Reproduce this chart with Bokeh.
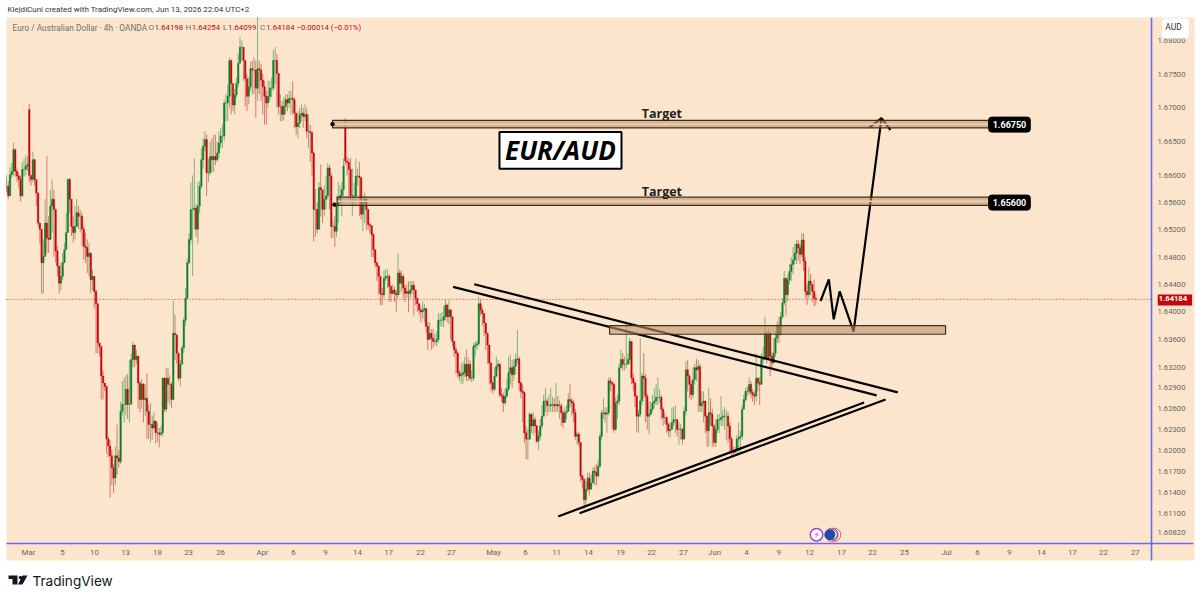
from bokeh.plotting import figure
from bokeh.embed import file_html
from bokeh.resources import INLINE
from bokeh.models import (ColumnDataSource, Range1d, FixedTicker, NumeralTickFormatter, Label,
                          BoxAnnotation, PolyAnnotation)

# ---- price data, price x 10000, one row = 10 four-hour candles ----
closes = [
16584,16570,16601,16606,16638,16606,16599,16594,16570,16609,
16609,16614,16616,16600,16594,16623,16594,16574,16530,16521,
16472,16481,16530,16508,16506,16555,16565,16550,16489,16467,
16442,16452,16472,16491,16516,16594,16565,16525,16516,16525,
16545,16540,16540,16521,16496,16494,16481,16486,16447,16452,
16430,16412,16355,16350,16307,16297,16292,16216,16206,16192,
16175,16160,16192,16189,16184,16256,16266,16266,16288,16266,
16266,16331,16352,16331,16336,16297,16273,16295,16273,16275,
16256,16237,16237,16232,16242,16225,16225,16223,16225,16304,
16259,16304,16295,16295,16273,16369,16367,16340,16304,16324,
16348,16388,16420,16472,16506,16550,16550,16552,16521,16555,
16584,16623,16643,16653,16604,16604,16628,16623,16628,16623,
16633,16648,16658,16658,16707,16707,16717,16770,16736,16704,
16719,16736,16766,16790,16790,16770,16743,16717,16731,16758,
16756,16756,16729,16758,16756,16741,16731,16717,16707,16717,
16729,16729,16770,16770,16751,16702,16702,16690,16702,16712,
16707,16714,16714,16712,16692,16672,16677,16690,16692,16687,
16690,16665,16665,16663,16633,16550,16550,16521,16582,16579,
16550,16565,16570,16611,16599,16525,16525,16518,16555,16560,
16570,16579,16614,16621,16619,16609,16570,16570,16570,16599,
16599,16597,16543,16560,16565,16550,16528,16526,16513,16491,
16472,16467,16452,16427,16425,16449,16452,16452,16437,16427,
16432,16427,16425,16457,16442,16452,16435,16427,16430,16427,
16432,16439,16432,16420,16412,16403,16400,16403,16405,16379,
16360,16369,16362,16357,16357,16360,16388,16388,16388,16393,
16410,16393,16403,16393,16357,16345,16340,16312,16307,16309,
16312,16324,16307,16324,16304,16304,16350,16352,16354,16412,
16403,16398,16384,16369,16352,16326,16297,16288,16307,16321,
16324,16280,16278,16268,16278,16288,16312,16319,16309,16321,
16331,16332,16297,16285,16283,16225,16216,16216,16252,16235,
16244,16235,16213,16220,16235,16249,16271,16271,16264,16264,
16266,16266,16264,16266,16264,16264,16254,16240,16254,16256,
16273,16271,16268,16254,16220,16223,16211,16163,16158,16129,
16144,16160,16144,16153,16170,16168,16163,16177,16220,16254,
16254,16252,16254,16300,16297,16295,16230,16268,16271,16319,
16331,16324,16324,16324,16331,16357,16304,16297,16278,16249,
16252,16271,16307,16304,16278,16249,16252,16259,16268,16271,
16276,16276,16276,16259,16247,16247,16237,16228,16230,16240,
16244,16244,16230,16230,16230,16216,16256,16316,16307,16295,
16280,16302,16319,16316,16321,16264,16268,16271,16249,16228,
16254,16252,16235,16211,16230,16244,16244,16247,16249,16249,
16249,16235,16216,16199,16197,16199,16216,16218,16220,16259,
16273,16285,16285,16295,16283,16280,16278,16304,16297,16295,
16331,16333,16369,16333,16369,16336,16326,16340,16362,16381,
16367,16393,16413,16449,16425,16447,16459,16469,16476,16486,
16499,16494,16484,16505,16474,16430,16425,16445,16440,16430,16420,16418.4]

highs = [
16600,16592,16612,16618,16648,16640,16610,16604,16600,16620,
16625,16630,16628,16706,16600,16635,16625,16590,16575,16530,
16496,16506,16565,16628,16540,16579,16594,16579,16511,16496,
16467,16472,16486,16501,16545,16596,16596,16565,16540,16555,
16565,16555,16550,16545,16525,16516,16506,16501,16481,16462,
16445,16432,16412,16355,16330,16315,16297,16292,16220,16215,
16200,16180,16205,16237,16200,16270,16300,16305,16308,16310,
16330,16340,16358,16345,16345,16335,16300,16303,16297,16295,
16311,16265,16268,16250,16255,16240,16240,16232,16235,16305,
16305,16319,16319,16308,16298,16417,16396,16360,16320,16330,
16352,16392,16435,16478,16515,16590,16600,16625,16558,16590,
16592,16640,16655,16665,16660,16625,16650,16655,16660,16660,
16650,16665,16670,16675,16712,16720,16735,16775,16772,16720,
16728,16745,16780,16805,16800,16785,16770,16750,16745,16768,
16770,16775,16770,16835,16770,16765,16750,16740,16725,16740,
16740,16745,16785,16790,16780,16750,16720,16710,16716,16720,
16720,16725,16725,16739,16715,16690,16695,16700,16705,16700,
16705,16700,16690,16675,16665,16635,16580,16560,16590,16616,
16575,16585,16600,16618,16615,16603,16535,16540,16570,16590,
16585,16590,16625,16685,16628,16625,16625,16610,16590,16625,
16610,16620,16595,16570,16575,16568,16550,16530,16525,16515,
16490,16473,16468,16445,16435,16460,16462,16462,16455,16440,
16440,16437,16432,16486,16462,16460,16455,16440,16440,16445,
16445,16445,16445,16432,16420,16412,16408,16415,16412,16405,
16385,16385,16375,16375,16368,16372,16398,16398,16400,16408,
16418,16412,16417,16405,16380,16358,16350,16342,16316,16325,
16328,16335,16345,16334,16330,16315,16355,16358,16358,16422,
16418,16408,16398,16384,16370,16352,16326,16300,16320,16335,
16330,16326,16290,16283,16290,16303,16335,16338,16330,16332,
16340,16374,16335,16300,16295,16285,16235,16230,16255,16252,
16255,16248,16236,16228,16245,16265,16280,16290,16275,16280,
16290,16277,16275,16297,16278,16272,16268,16258,16262,16265,
16282,16295,16275,16272,16260,16227,16226,16212,16165,16160,
16155,16168,16168,16165,16175,16177,16180,16185,16225,16258,
16275,16262,16262,16305,16305,16300,16298,16275,16280,16325,
16345,16340,16335,16382,16340,16362,16358,16310,16300,16280,
16258,16362,16312,16340,16310,16282,16270,16270,16280,16290,
16295,16305,16288,16280,16262,16255,16250,16240,16240,16262,
16262,16265,16245,16240,16238,16232,16262,16328,16330,16310,
16300,16320,16325,16332,16330,16325,16285,16285,16270,16250,
16290,16275,16260,16238,16245,16252,16252,16278,16258,16262,
16258,16255,16240,16220,16205,16205,16222,16240,16228,16265,
16280,16290,16292,16305,16300,16288,16285,16340,16305,16305,
16340,16350,16393,16372,16376,16372,16342,16362,16372,16386,
16393,16400,16420,16460,16450,16455,16470,16480,16495,16500,
16505,16505,16500,16515,16515,16480,16440,16465,16455,16440,16447,16425.4]

lows = [
16575,16565,16570,16596,16600,16598,16590,16582,16562,16568,
16598,16600,16606,16590,16585,16590,16585,16555,16525,16500,
16427,16427,16486,16486,16486,16535,16516,16481,16472,16452,
16427,16432,16447,16472,16496,16540,16545,16511,16501,16506,
16525,16521,16516,16496,16476,16472,16457,16452,16427,16432,
16405,16340,16340,16335,16273,16273,16285,16195,16190,16132,
16150,16139,16150,16165,16175,16180,16250,16240,16250,16245,
16240,16270,16320,16320,16325,16260,16255,16260,16240,16250,
16216,16216,16211,16215,16230,16210,16212,16204,16220,16220,
16255,16255,16270,16265,16261,16275,16330,16325,16300,16292,
16340,16340,16380,16420,16470,16500,16452,16520,16510,16500,
16545,16580,16610,16635,16570,16590,16600,16605,16605,16615,
16620,16625,16640,16640,16650,16680,16680,16700,16690,16695,
16690,16715,16730,16770,16770,16740,16702,16695,16705,16725,
16720,16720,16685,16710,16720,16710,16690,16675,16675,16700,
16710,16715,16725,16735,16700,16690,16680,16680,16682,16690,
16695,16700,16690,16690,16670,16660,16655,16670,16680,16670,
16680,16655,16640,16620,16600,16503,16510,16515,16520,16540,
16530,16540,16550,16565,16550,16508,16508,16495,16510,16530,
16555,16540,16570,16615,16600,16565,16560,16540,16555,16560,
16585,16540,16535,16518,16530,16520,16520,16515,16480,16480,
16465,16445,16425,16410,16410,16420,16445,16435,16415,16415,
16425,16415,16400,16420,16425,16430,16420,16415,16420,16400,
16420,16425,16395,16410,16400,16395,16385,16390,16385,16370,
16345,16360,16345,16348,16352,16350,16355,16380,16378,16378,
16388,16385,16382,16360,16350,16335,16310,16305,16300,16296,
16296,16305,16300,16300,16300,16298,16300,16335,16345,16350,
16395,16380,16365,16345,16325,16295,16285,16282,16285,16305,
16315,16276,16270,16255,16265,16275,16285,16295,16290,16300,
16310,16325,16285,16275,16240,16210,16187,16187,16215,16225,
16222,16225,16210,16200,16215,16230,16250,16255,16250,16255,
16255,16255,16255,16255,16255,16245,16235,16232,16240,16245,
16260,16262,16250,16240,16215,16208,16205,16155,16145,16115,
16120,16140,16135,16148,16155,16150,16150,16160,16175,16215,
16245,16240,16225,16250,16285,16230,16225,16228,16245,16265,
16322,16315,16315,16318,16325,16325,16295,16285,16262,16226,
16225,16248,16265,16275,16240,16230,16223,16250,16255,16260,
16265,16265,16268,16245,16235,16238,16225,16220,16218,16232,
16235,16225,16220,16208,16215,16208,16215,16250,16285,16275,
16272,16275,16295,16300,16255,16255,16255,16240,16225,16205,
16205,16235,16205,16205,16205,16225,16225,16235,16235,16230,
16215,16210,16195,16190,16192,16195,16193,16197,16195,16215,
16262,16270,16278,16280,16275,16270,16265,16270,16285,16265,
16305,16325,16330,16325,16330,16307,16318,16325,16335,16355,
16355,16385,16390,16410,16395,16415,16440,16445,16455,16470,
16470,16475,16470,16480,16460,16420,16410,16420,16425,16415,16408,16409.9]

open_gaps = {13: 16697, 193: 16670, 461: 16419.8}   # candles that open away from the previous close

date_labels = ["Mar","5","10","13","18","23","26","Apr","6","9","14","17","22","27","May","6","11","14",
               "19","22","27","Jun","4","9","12","17","22","25","Jul","6","9","14","17","22","27"]
date_pos = [12.5,31.9,50.1,67.8,86,103.7,121.9,145.8,163.5,181.7,199.9,217.6,235.8,253.4,277.4,295.6,313.3,331.5,
            349.8,367.4,385.6,403.3,421.5,439.8,457.4,475.6,493.3,511.5,535.4,553,571.2,589.5,607.1,624.8,643]
price_ticks = [1.68,1.675,1.67,1.665,1.66,1.656,1.652,1.648,1.644,1.64,1.636,1.632,1.629,1.626,1.623,1.62,1.617,1.614,1.611,1.6082]
last_price = 1.64184

# drawings, in bar index / price
zone_left = [185.7,188.5,343.5]; zone_right = [559.4,562.2,534.9]
zone_top = [1.66813,1.6568,1.63801]; zone_bottom = [1.66701,1.6556,1.63676]
trend_x0 = [254.4,266.4,314.2,326.4]; trend_y0 = [1.64366,1.64404,1.61051,1.61096]
trend_x1 = [495.6,507.7,488.5,500.7]; trend_y1 = [1.6279,1.62834,1.62688,1.62732]
path_x = [463.7,468.4,471.2,474.6,482.5,498.4]; path_y = [1.6416,1.64474,1.63894,1.64301,1.63713,1.66846]
head_x = [491.6,498.4,503.5]; head_y = [1.6671,1.66846,1.6667]

PEACH="#FCE5CD"; BLUE="#6A6AEC"; RED="#C4070A"; GREEN="#0A7F28"; GRAY="#6E6E6E"
scale = 1e-4
opens = [closes[0]] + closes[:-1]
for k, v in open_gaps.items():
    opens[k] = v
assert len(closes) == len(highs) == len(lows), (len(closes), len(highs), len(lows))
idx = list(range(len(closes)))
o = [v*scale for v in opens]; c = [v*scale for v in closes]; h = [v*scale for v in highs]; l = [v*scale for v in lows]
col = [GREEN if a >= b else RED for a, b in zip(c, o)]
src = ColumnDataSource(dict(x=idx, o=o, c=c, h=h, l=l, col=col))

p = figure(width=1200, height=600, output_backend="svg", toolbar_location=None,
           y_axis_type="log", y_axis_location="right",
           x_range=Range1d(-3.4176, 680.1), y_range=Range1d(1.59854, 1.68597),
           min_border=0, background_fill_color="white", border_fill_color="white", outline_line_color=None)
p.grid.visible = False

p.yaxis.fixed_location = 652.2          # the frame's right-hand price scale
p.yaxis.bounds = (1.60423, 1.68343)
p.yaxis.ticker = FixedTicker(ticks=price_ticks)
p.yaxis.formatter = NumeralTickFormatter(format="0.00000")
p.yaxis.major_tick_line_color = None; p.yaxis.minor_tick_line_color = None
p.yaxis.major_tick_out = 0; p.yaxis.major_tick_in = 0
p.yaxis.axis_line_color = BLUE; p.yaxis.axis_line_width = 1.6
p.yaxis.major_label_text_font = "Roboto"; p.yaxis.major_label_text_font_size = "7.7px"
p.yaxis.major_label_text_color = "#666666"; p.yaxis.major_label_standoff = 6

p.xaxis.fixed_location = 1.60663
p.xaxis.bounds = (0, 676.1)
p.xaxis.ticker = FixedTicker(ticks=date_pos)
p.xaxis.major_label_overrides = {k: v for k, v in zip(date_pos, date_labels)}
p.xaxis.major_tick_line_color = None; p.xaxis.minor_tick_line_color = None
p.xaxis.major_tick_out = 0; p.xaxis.major_tick_in = 0
p.xaxis.axis_line_color = BLUE; p.xaxis.axis_line_width = 1.6
p.xaxis.major_label_text_font = "Roboto"; p.xaxis.major_label_text_font_size = "7.8px"
p.xaxis.major_label_text_color = "#666666"; p.xaxis.major_label_standoff = 4

# chart panel
p.add_layout(BoxAnnotation(left=6, right=1194, top=17, bottom=560, left_units="canvas", right_units="canvas",
                           top_units="canvas", bottom_units="canvas", fill_color=PEACH, fill_alpha=1, line_color=None, level="underlay"))
p.line([0, 652.2], [last_price, last_price], line_color=RED, line_dash="1 2", line_width=1, line_alpha=0.8)

# candles
p.segment("x", "l", "x", "h", source=src, color="col", line_width=1, line_alpha=0.5)
p.vbar("x", 0.85, "o", "c", source=src, fill_color="col", line_color="col", line_width=0.4)

# drawings
for a, b, d, e in zip(trend_x0, trend_y0, trend_x1, trend_y1):
    p.line([a, d], [b, e], line_color="black", line_width=2.2)
p.line(path_x, path_y, line_color="black", line_width=2.2)
p.line(head_x, head_y, line_color="black", line_width=2.2)
p.quad(left=zone_left, right=zone_right, top=zone_top, bottom=zone_bottom,
       fill_color="#BF9368", fill_alpha=0.6, line_color="#3A3026", line_width=1.2)
for a, b, d, e in zip(zone_left[:2], zone_right[:2], zone_top[:2], zone_bottom[:2]):
    p.line([a, b], [(d+e)/2, (d+e)/2], line_color="#EBD0B4", line_width=1.5)
p.scatter(zone_left[:1], [(zone_top[0]+zone_bottom[0])/2], size=3.5, color="black")
p.scatter([186.8], [1.6557], size=3.5, color="black")

# name box
p.quad(left=[280.8], right=[350.3], top=[1.66642], bottom=[1.66098], fill_color="white", line_color="black", line_width=2)
p.add_layout(Label(x=315.5, y=1.6637, text="EUR/AUD", text_font="Open Sans", text_font_style="bold italic",
                   text_font_size="26px", text_color="black", text_align="center", text_baseline="middle"))
for yy in (1.6691, 1.65756):
    p.add_layout(Label(x=373.3, y=yy, text="Target", text_font="Open Sans", text_font_style="bold",
                       text_font_size="12.5px", text_color="#222222", text_align="center", text_baseline="middle"))
for yy, tt in ((1.6675, "1.66750"), (1.656, "1.65600")):
    p.add_layout(Label(x=571.3, y=yy, text=tt, text_font="Roboto", text_font_style="bold", text_font_size="9px",
                       text_color="white", text_align="center", text_baseline="middle",
                       background_fill_color="black", border_line_color="black", border_radius=3, padding=4))

# events
p.scatter([471.5], [1.6079], size=13, fill_color="#FFFFFF", line_color="#F04848", line_width=1)
p.scatter([470], [1.6079], size=13, fill_color="#FFFFFF", line_color="#F04848", line_width=1)
p.scatter([470.4], [1.6079], size=10, fill_color="#FFFFFF", line_color="#1A4CA8", line_width=1)
p.scatter([469], [1.6079], size=10, fill_color="#1A4CA8", line_color="#1A4CA8")
p.scatter([461.4], [1.6079], size=12.5, fill_color="#FFFFFF", line_color="#A63BD6", line_width=1.5)
p.add_layout(Label(x=461.4, y=1.6079, text="⚡", text_font="DejaVu Sans", text_font_size="9px", text_color="#A63BD6",
                   text_align="center", text_baseline="middle"))

def clabel(x, y, text, color="#444444", size="9px", font="Roboto", align="left", **kw):
    p.add_layout(Label(x=x, y=y, x_units="canvas", y_units="canvas", text=text, text_color=color, text_font_size=size,
                       text_font=font, text_align=align, text_baseline="middle", **kw))

clabel(7, 9, "KlejdiCuni created with TradingView.com, Jun 13, 2026 22:04 UTC+2", "#333333", "8px")
clabel(12, 27, "Euro / Australian Dollar · 4h · OANDA", GRAY, "8.3px")
for xx, letter, num in ((148, "O", "1.64198"), (185, "H", "1.64254"), (222.5, "L", "1.64099"), (259.5, "C", "1.64184")):
    clabel(xx, 27, letter, GRAY, "8px")
    clabel(xx+(6.2 if letter != "L" else 5), 27, num, RED, "7.8px")
clabel(296, 27, "−0.00014 (−0.01%)", RED, "7.7px")

# price badges on the axis
clabel(1175, 28, "AUD", "#333333", "8.5px", align="center", background_fill_color="white",
       border_radius=3, padding=[3, 7, 3, 7])
clabel(1174.4, 299.5, "1.64184", "white", "7.6px", align="center", text_font_style="bold",
       background_fill_color="#C4070A", padding=[1, 5, 1, 5])

# TradingView mark
p.add_layout(PolyAnnotation(xs=[8,17,17,12,12,8], ys=[575,575,584,584,578.5,578.5], xs_units="canvas", ys_units="canvas",
                            fill_color="#131722", fill_alpha=1, line_color=None))
p.add_layout(PolyAnnotation(xs=[22,27,22,17.5], ys=[575,575,584,584], xs_units="canvas", ys_units="canvas",
                            fill_color="#131722", fill_alpha=1, line_color=None))
p.add_layout(PolyAnnotation(xs=[18.3,20,21.7,21.7,20,18.3], ys=[576.2,575.2,576.2,578,579,578], xs_units="canvas", ys_units="canvas",
                            fill_color="#131722", fill_alpha=1, line_color=None))
clabel(32, 580, "TradingView", "#131722", "13.6px", "Inter")

open("out.html", "w").write(file_html(p, INLINE))
